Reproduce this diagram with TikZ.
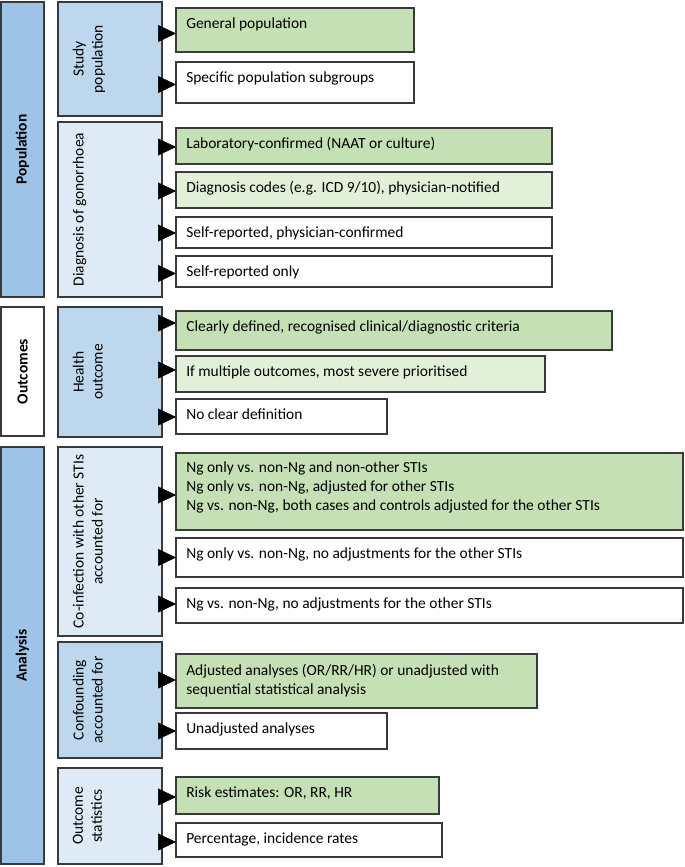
\documentclass[tikz,border=0pt]{standalone}
\usepackage{fontspec}
\setmainfont{Carlito}
\usetikzlibrary{arrows.meta,fit}
\definecolor{catblue}{HTML}{9DC3E6}
\definecolor{midblue}{HTML}{BDD7EE}
\definecolor{paleblue}{HTML}{DEEBF7}
\definecolor{okgreen}{HTML}{C5E0B4}
\definecolor{palegreen}{HTML}{E2F0D9}
\definecolor{edgecol}{HTML}{3A3A3A}
\newcommand\fsz{\fontsize{11.6pt}{14.25pt}\selectfont}
\begin{document}
\begin{tikzpicture}[x=0.75pt,y=-0.75pt,
  box/.style={draw=edgecol, line width=1.1pt, inner sep=0pt, outer sep=0pt},
  cattext/.style={rotate=90, font=\fsz\bfseries, inner sep=0pt},
  subtext/.style={rotate=90, anchor=north, align=center, font=\fsz, inner sep=0pt},
  opttext/.style={anchor=base west, inner sep=0pt, font=\fsz},
  arr/.style={draw=black, line width=0.4pt, -{Triangle[length=13.5pt,width=12.75pt]}}]
\useasboundingbox (0,0) rectangle (685,867);

% ---------- column 1 ----------
\node[box, fill=catblue, fit={(1,2)(44,297)}] (pop) {};
\node[box, fill=white, fit={(1,307)(44,436)}] (out) {};
\node[box, fill=catblue, fit={(1,447)(44,864)}] (ana) {};
\node[cattext] (popt) at (pop.center) {Population};
\node[cattext] (outt) at (out.center) {Outcomes};
\node[cattext] (anat) at (ana.center) {Analysis};

% ---------- column 2 ----------
\node[box, fill=midblue, fit={(58,2)(162,116)}] (sp) {};
\node[box, fill=paleblue, fit={(58,122)(162,297)}] (dg) {};
\node[box, fill=midblue, fit={(58,307)(162,437)}] (ho) {};
\node[box, fill=paleblue, fit={(58,447)(162,636)}] (co) {};
\node[box, fill=midblue, fit={(58,642)(162,758)}] (cf) {};
\node[box, fill=paleblue, fit={(58,768)(162,864)}] (os) {};
\node[subtext] (spt) at (72.5,59) {Study\\population};
\node[subtext] (dgt) at (72.5,209.5) {Diagnosis of gonorrhoea};
\node[subtext] (hot) at (72.5,372) {Health\\outcome};
\node[subtext] (cot) at (72.5,541.5) {Co-infection with other STIs\\accounted for};
\node[subtext] (cft) at (72.5,700) {Confounding\\accounted for};
\node[subtext] (ost) at (72.5,816) {Outcome\\statistics};

% ---------- column 3 ----------
\node[box, fill=okgreen, fit={(176,8)(414,52)}] (g1) {};
\node[box, fill=white, fit={(176,62)(414,103)}] (g2) {};
\node[box, fill=okgreen, fit={(176,128)(552,164)}] (d1) {};
\node[box, fill=palegreen, fit={(176,172)(552,208)}] (d2) {};
\node[box, fill=white, fit={(176,217)(552,248)}] (d3) {};
\node[box, fill=white, fit={(176,256)(552,287)}] (d4) {};
\node[box, fill=okgreen, fit={(176,311)(612,350)}] (h1) {};
\node[box, fill=palegreen, fit={(176,356)(545,392)}] (h2) {};
\node[box, fill=white, fit={(176,399)(387,434)}] (h3) {};
\node[box, fill=okgreen, fit={(176,453)(683,530)}] (c1) {};
\node[box, fill=white, fit={(176,538)(683,577)}] (c2) {};
\node[box, fill=white, fit={(176,588)(683,623)}] (c3) {};
\node[box, fill=okgreen, fit={(176,654)(537,708)}] (f1) {};
\node[box, fill=white, fit={(176,713)(387,749)}] (f2) {};
\node[box, fill=okgreen, fit={(176,777)(439,814)}] (o1) {};
\node[box, fill=white, fit={(176,823)(442,857)}] (o2) {};

\node[opttext] (g1t) at ([shift={(10,20.5)}]g1.north west) {General population};
\node[opttext] (g2t) at ([shift={(10,20.5)}]g2.north west) {Specific population subgroups};
\node[opttext] (d1t) at ([shift={(10,20.5)}]d1.north west) {Laboratory-confirmed (NAAT or culture)};
\node[opttext] (d2t) at ([shift={(10,20.5)}]d2.north west) {Diagnosis codes (e.g. ICD 9/10), physician-notified};
\node[opttext] (d3t) at ([shift={(10,20)}]d3.north west) {Self-reported, physician-confirmed};
\node[opttext] (d4t) at ([shift={(10,20)}]d4.north west) {Self-reported only};
\node[opttext] (h1t) at ([shift={(10,20.5)}]h1.north west) {Clearly defined, recognised clinical/diagnostic criteria};
\node[opttext] (h2t) at ([shift={(10,20.5)}]h2.north west) {If multiple outcomes, most severe prioritised};
\node[opttext] (h3t) at ([shift={(10,20.5)}]h3.north west) {No clear definition};
\node[opttext] (c1t) at ([shift={(10,19)}]c1.north west) {\parbox[t]{480pt}{\fsz Ng only vs. non-Ng and non-other STIs\\Ng only vs. non-Ng, adjusted for other STIs\\Ng vs. non-Ng, both cases and controls adjusted for the other STIs}};
\node[opttext] (c2t) at ([shift={(10,20.5)}]c2.north west) {Ng only vs. non-Ng, no adjustments for the other STIs};
\node[opttext] (c3t) at ([shift={(10,20.5)}]c3.north west) {Ng vs. non-Ng, no adjustments for the other STIs};
\node[opttext] (f1t) at ([shift={(10,21)}]f1.north west) {\parbox[t]{480pt}{\fsz Adjusted analyses (OR/RR/HR) or unadjusted with\\sequential statistical analysis}};
\node[opttext] (f2t) at ([shift={(10,20.5)}]f2.north west) {Unadjusted analyses};
\node[opttext] (o1t) at ([shift={(10,20.5)}]o1.north west) {Risk estimates: OR, RR, HR};
\node[opttext] (o2t) at ([shift={(10,20.5)}]o2.north west) {Percentage, incidence rates};

% ---------- arrows ----------
\draw[arr] (sp.east |- 0,33.5) -- (g1.west |- 0,33.5);
\draw[arr] (sp.east |- 0,84.5) -- (g2.west |- 0,84.5);
\draw[arr] (dg.east |- 0,147) -- (d1.west |- 0,147);
\draw[arr] (dg.east |- 0,191) -- (d2.west |- 0,191);
\draw[arr] (dg.east |- 0,233) -- (d3.west |- 0,233);
\draw[arr] (dg.east |- 0,273.5) -- (d4.west |- 0,273.5);
\draw[arr] (ho.east |- 0,323) -- (h1.west |- 0,323);
\draw[arr] (ho.east |- 0,370) -- (h2.west |- 0,370);
\draw[arr] (ho.east |- 0,417) -- (h3.west |- 0,417);
\draw[arr] (co.east |- 0,495) -- (c1.west |- 0,495);
\draw[arr] (co.east |- 0,557.5) -- (c2.west |- 0,557.5);
\draw[arr] (co.east |- 0,604) -- (c3.west |- 0,604);
\draw[arr] (cf.east |- 0,680) -- (f1.west |- 0,680);
\draw[arr] (cf.east |- 0,731) -- (f2.west |- 0,731);
\draw[arr] (os.east |- 0,797) -- (o1.west |- 0,797);
\draw[arr] (os.east |- 0,842) -- (o2.west |- 0,842);
\end{tikzpicture}
\end{document}
